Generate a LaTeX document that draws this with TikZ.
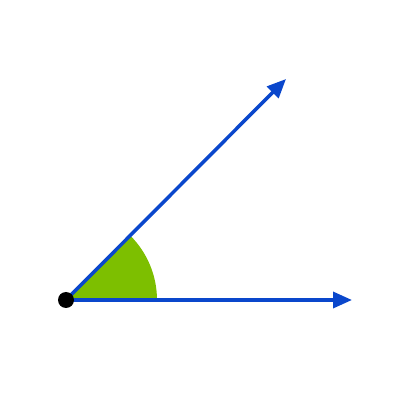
\documentclass[tikz,border=0pt]{standalone}
\usetikzlibrary{arrows.meta}
\definecolor{rayblue}{HTML}{0A47CC}
\definecolor{anglegreen}{HTML}{7DBF00}
\tikzset{ray/.style={draw=rayblue, line width=3.5pt, -{Triangle[length=19pt,width=16pt]}}}
\begin{document}
\begin{tikzpicture}[x=1pt,y=1pt]
\useasboundingbox (0,0) rectangle (400,400);
\coordinate (O) at (66,100);
\coordinate (A) at (352,100);
\coordinate (B) at (286,321);
\fill[anglegreen] (O) -- ++(91,0) arc[start angle=0,end angle=45,radius=91] -- cycle;
\draw[ray] (O) -- (A);
\draw[ray] (O) -- (B);
\fill[black] (O) circle[radius=8];
\end{tikzpicture}
\end{document}
